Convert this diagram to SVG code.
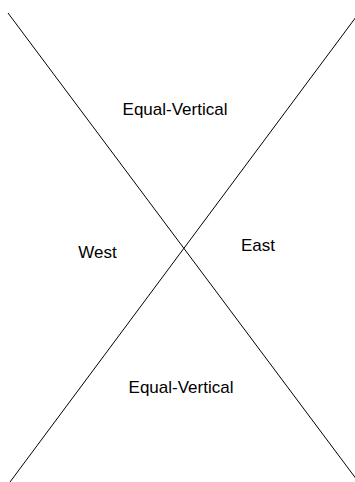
<svg xmlns="http://www.w3.org/2000/svg" width="355" height="482" viewBox="0 0 355 482">
<style>
.l{stroke:#000;stroke-width:1;fill:none}
.t{font-family:"Liberation Sans",Arial,sans-serif;font-size:17px;fill:#000;text-anchor:middle}
</style>
<rect width="355" height="482" fill="#fff"/>
<g id="connectors">
<line class="l" x1="8" y1="13" x2="357" y2="480"/>
<line class="l" x1="356" y1="17" x2="10" y2="482"/>
</g>
<g id="top"><text class="t" x="175" y="115">Equal-Vertical</text></g>
<g id="west"><text class="t" x="97.5" y="258">West</text></g>
<g id="east"><text class="t" x="258" y="251">East</text></g>
<g id="bottom"><text class="t" x="181" y="392.5">Equal-Vertical</text></g>
</svg>
